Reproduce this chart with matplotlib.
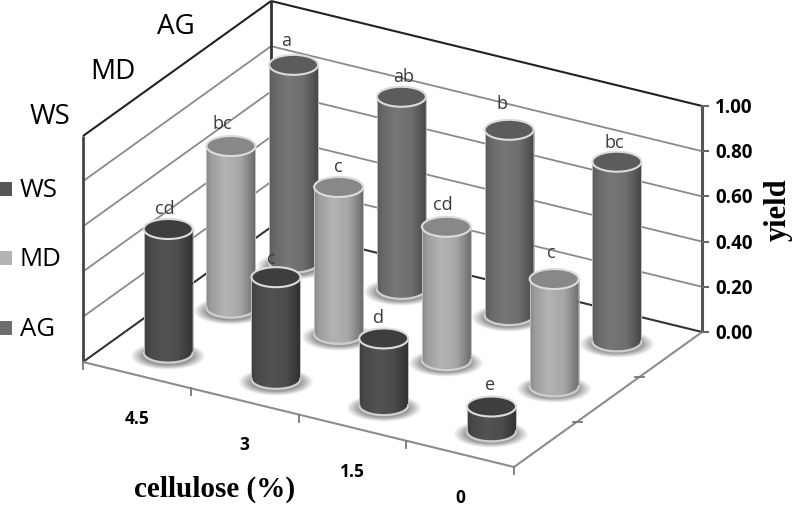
import numpy as np
from matplotlib import pyplot as plt
from matplotlib.patches import Ellipse, PathPatch, Rectangle
from matplotlib.path import Path

categories = ['4.5', '3', '1.5', '0']
series_names = ['WS', 'MD', 'AG']
ws_values = [0.547, 0.45, 0.295, 0.11]
md_values = [0.715, 0.65, 0.59, 0.475]
ag_values = [0.875, 0.85, 0.82, 0.795]
ws_letters = ['cd', 'c', 'd', 'e']
md_letters = ['bc', 'c', 'cd', 'c']
ag_letters = ['a', 'ab', 'b', 'bc']
yticks = [0.0, 0.2, 0.4, 0.6, 0.8, 1.0]

values = [ws_values, md_values, ag_values]
letters = [ws_letters, md_letters, ag_letters]

# hand nudges for the letters, they sit unevenly in the original
letter_dx = [[-3, -5, -5, -1], [-9, 0, -4, -3], [-8, 2, -7, -3]]
letter_dy = [[-21, -19, -21, -23], [-23, -21, -23, -27], [-25, -21, -27, -20]]

# side colour, top colour, legend colour
colors = {'WS': ('#505050', '#3e3e3e', '#565656'),
          'MD': ('#aeaeae', '#888888', '#b4b4b4'),
          'AG': ('#737373', '#5c5c5c', '#6e6e6e')}

# oblique projection of the excel 3d box, in figure pixels
ORIGIN = np.array([83.0, 363.0])
U = np.array([107.75, 26.25])
V = np.array([62.7, -45.0])
HEIGHT = 226.0
RX = 24.5
RY = 10.0


def project(c, s, v=0.0):
    p = ORIGIN + c * U + s * V
    return p[0], p[1] - v * HEIGHT


def line3d(ax, a, b, color, lw, zorder=1, ls='-'):
    pa = project(*a)
    pb = project(*b)
    ax.plot([pa[0], pb[0]], [pa[1], pb[1]], color=color, lw=lw, ls=ls,
            zorder=zorder, solid_capstyle='butt')


def shadow(ax, x, y, z):
    yy, xx = np.mgrid[-1:1:60j, -1:1:120j]
    r = np.sqrt(xx ** 2 + yy ** 2)
    img = np.zeros((60, 120, 4))
    img[..., :3] = 0.52
    img[..., 3] = np.clip((1.0 - r) / 0.35, 0, 1) * 0.85
    ax.imshow(img, extent=[x - 38, x + 38, y + 15, y - 13], aspect='auto',
              zorder=z, interpolation='bilinear')


def cylinder(ax, x, y0, y1, side, top, z):
    shadow(ax, x, y0 + 2, z)
    t = np.linspace(0, np.pi, 40)
    bx = x + RX * np.cos(t)
    by = y0 + RY * np.sin(t)
    verts = list(zip(bx, by)) + [(x - RX, y1), (x + RX, y1), (x + RX, y0)]
    path = Path(verts + [verts[0]])
    rgb = np.array(plt.matplotlib.colors.to_rgb(side))
    pos = np.linspace(0, 1, 100)
    # lighter left of the middle, dark towards the right edge
    shade = np.interp(pos, [0, 0.1, 0.38, 0.7, 0.92, 1], [0.78, 0.9, 1.03, 0.96, 0.72, 0.62])
    img = np.clip(rgb[None, None, :] * shade[None, :, None], 0, 1)
    im = ax.imshow(img, extent=[x - RX, x + RX, y0 + RY, y1], aspect='auto',
                   zorder=z + 0.1, interpolation='bilinear')
    clip = PathPatch(path, transform=ax.transData, fc='none', ec='none')
    ax.add_patch(clip)
    im.set_clip_path(clip)
    ax.plot(bx, by, color='#cfcfcf', lw=1.6, zorder=z + 0.2)
    ax.plot([x - RX, x - RX], [y0, y1], color='#bdbdbd', lw=0.7, zorder=z + 0.2)
    ax.plot([x + RX, x + RX], [y0, y1], color='#bdbdbd', lw=0.7, zorder=z + 0.2)
    ax.add_patch(Ellipse((x, y1), 2 * RX, 2 * RY, fc=top, ec='#dcdcdc', lw=1.5, zorder=z + 0.3))


fig = plt.figure(figsize=(7.93, 5.06), dpi=100)
ax = fig.add_axes([0, 0, 1, 1])

n_c = len(categories)
n_s = len(series_names)

# walls
for v in yticks[1:-1]:
    line3d(ax, (0, 0, v), (0, n_s, v), '#8a8a8a', 1.3)
    line3d(ax, (0, n_s, v), (n_c, n_s, v), '#8a8a8a', 1.3)
line3d(ax, (0, 0, 0), (0, n_s, 0), '#333333', 1.5)
line3d(ax, (0, n_s, 0), (n_c, n_s, 0), '#333333', 1.5)
line3d(ax, (0, 0, 1), (0, n_s, 1), '#222222', 1.5)
line3d(ax, (0, n_s, 1), (n_c, n_s, 1), '#222222', 1.5)
line3d(ax, (0, 0, 0), (0, 0, 1), '#444444', 2)
line3d(ax, (0, n_s, 0), (0, n_s, 1), '#333333', 2)
line3d(ax, (n_c, n_s, 0), (n_c, n_s, 1), '#555555', 2.2)

# floor edges
line3d(ax, (0, 0, 0), (n_c, 0, 0), '#8c8c8c', 1.5)
line3d(ax, (n_c, 0, 0), (n_c, n_s, 0), '#8c8c8c', 1.5)

# ticks
for c in range(n_c + 1):
    x, y = project(c, 0)
    ax.plot([x, x], [y, y + 7], color='#777777', lw=1.3, zorder=1)
for s in range(1, n_s):
    x, y = project(n_c, s)
    ax.plot([x - 4, x + 5], [y, y], color='#777777', lw=1.3, zorder=1)
for v in yticks:
    x, y = project(n_c, n_s, v)
    ax.plot([x, x + 6], [y, y], color='#666666', lw=1.5, zorder=1)
    ax.text(x + 13, y + 1, '%.2f' % v, fontsize=13.5, family='Open Sans', weight='bold',
            va='center', ha='left', color='black')

# cylinders, back row first
for s in range(n_s - 1, -1, -1):
    side, top, _ = colors[series_names[s]]
    for c in range(n_c):
        x, y0 = project(c + 0.5, s + 0.5)
        y1 = project(c + 0.5, s + 0.5, values[s][c])[1]
        z = 2 + (n_s - s) * 10 + c
        cylinder(ax, x, y0, y1, side, top, z)

for s in range(n_s):
    for c in range(n_c):
        x, y1 = project(c + 0.5, s + 0.5, values[s][c])
        ax.text(x + letter_dx[s][c], y1 + letter_dy[s][c], letters[s][c], fontsize=13,
                family='Open Sans', color='#3a3a3a', ha='center', va='center', zorder=60)

# category labels under the front edge
for c, lab in enumerate(categories):
    x, y = project(c + 0.5, 0)
    ax.text(x, y + 43, lab, fontsize=12.5, family='Open Sans', weight='bold',
            ha='center', va='center', color='black')

# series names along the left wall
for s, name in enumerate(series_names):
    x, y = project(0, s + 0.5, 1.0)
    ax.text(x - 64, y + 2, name, fontsize=20, family='Open Sans',
            ha='center', va='center', color='black')

# legend
for name, ly in zip(series_names, [190, 259, 329]):
    ax.add_patch(Rectangle((0, ly - 7), 12, 14, fc=colors[name][2], ec='none'))
    ax.text(20, ly, name, fontsize=18.5, family='Open Sans', ha='left', va='center', color='black')

ax.text(215, 489, 'cellulose (%)', fontsize=21, family='Liberation Serif', weight='bold',
        ha='center', va='center', color='black')
ax.text(778, 210, 'yield', fontsize=22, family='Liberation Serif', weight='bold',
        rotation=90, ha='center', va='center', color='black')

ax.set_xlim(0, 793)
ax.set_ylim(506, 0)
ax.axis('off')
fig.savefig('out.png', dpi=100)
